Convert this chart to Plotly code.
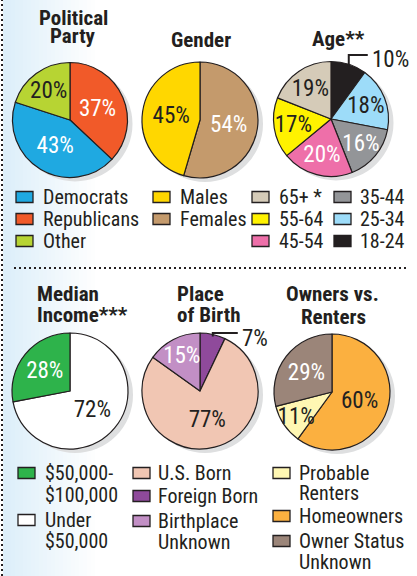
import math
import plotly.graph_objects as go

W, H = 417, 576

# ---------------- data ----------------
party_labels = ["Republicans", "Democrats", "Other"]
party_values = [37, 43, 20]
gender_labels = ["Females", "Males"]
gender_values = [54, 45]
age_labels = ["18-24", "25-34", "35-44", "45-54", "55-64", "65+ *"]
age_values = [10, 18, 16, 20, 17, 19]
income_labels = ["Under $50,000", "$50,000-$100,000"]
income_values = [72, 28]
birth_labels = ["Foreign Born", "U.S. Born", "Birthplace Unknown"]
birth_values = [7, 77, 15]
owner_labels = ["Homeowners", "Probable Renters", "Owner Status Unknown"]
owner_values = [60, 11, 29]

# legend text (as printed, split over lines)
party_legend = [["Democrats"], ["Republicans"], ["Other"]]
gender_legend = [["Males"], ["Females"]]
age_legend_1 = [["65+ *"], ["55-64"], ["45-54"]]
age_legend_2 = [["35-44"], ["25-34"], ["18-24"]]
income_legend = [["$50,000-", "$100,000"], ["Under", "$50,000"]]
birth_legend = [["U.S. Born"], ["Foreign Born"], ["Birthplace", "Unknown"]]
owner_legend = [["Probable", "Renters"], ["Homeowners"], ["Owner Status", "Unknown"]]

# ---------------- style ----------------
DARK = "#231F20"
FONT = "Liberation Sans Narrow, Arial Narrow, Roboto Condensed, DejaVu Sans Condensed, sans-serif"

colors = {
    "Republicans": "#F15A29", "Democrats": "#1FA9E1", "Other": "#B7D433",
    "Females": "#C49A6C", "Males": "#FFD700",
    "18-24": "#231F20", "25-34": "#9DDCF9", "35-44": "#939598",
    "45-54": "#EE6FA9", "55-64": "#FFF200", "65+ *": "#D5CBB8",
    "Under $50,000": "#FFFFFF", "$50,000-$100,000": "#2EB34B",
    "Foreign Born": "#8F4A9B", "U.S. Born": "#F1C6B3", "Birthplace Unknown": "#C28FC5",
    "Homeowners": "#FBB040", "Probable Renters": "#FFF7B3", "Owner Status Unknown": "#9B8579",
}
white_text = {"Republicans", "Democrats", "Females", "35-44", "45-54",
              "$50,000-$100,000", "Birthplace Unknown", "Owner Status Unknown"}


def px(x):
    return x / W


def py(y):
    return 1 - y / H


fig = go.Figure()
shapes = []
annotations = []

# background gradient on the left
for i in range(24):
    t = i / 23
    c = tuple(int(a + (255 - a) * t) for a in (221, 239, 250))
    shapes.append(dict(type="rect", xref="paper", yref="paper", layer="below",
                       x0=px(3 + i * 4), x1=px(3 + (i + 1) * 4 + 0.5), y0=0, y1=1,
                       fillcolor="rgb(%d,%d,%d)" % c, line=dict(width=0)))

# dotted separators
shapes.append(dict(type="line", xref="paper", yref="paper", x0=px(2), x1=px(2), y0=0, y1=1,
                   line=dict(color=DARK, width=2, dash="2px,3px")))
shapes.append(dict(type="line", xref="paper", yref="paper", x0=px(14), x1=px(409),
                   y0=py(268), y1=py(268), line=dict(color=DARK, width=2, dash="2px,3px")))

pies = [
    # labels, values, cx, cy, r, callout
    (party_labels, party_values, 70, 120, 57.5, None),
    (gender_labels, gender_values, 200, 120, 58, None),
    (age_labels, age_values, 331, 119, 57.5, dict(level=55, length=19)),
    (income_labels, income_values, 70, 391, 58, None),
    (birth_labels, birth_values, 200, 391, 58, dict(level=333, length=25)),
    (owner_labels, owner_values, 332, 392, 58, None),
]

for labels, values, cx, cy, r, callout in pies:
    # drop shadow
    shapes.append(dict(type="circle", xref="paper", yref="paper", layer="below",
                       x0=px(cx - r + 5), x1=px(cx + r + 5), y0=py(cy + r + 4), y1=py(cy - r + 4),
                       fillcolor="#DEDFE0", line=dict(width=0)))
    text = ["%d%%" % v for v in values]
    if callout:
        text[0] = ""
    fig.add_trace(go.Pie(
        labels=labels, values=values, sort=False, direction="clockwise", rotation=0,
        marker=dict(colors=[colors[l] for l in labels], line=dict(color=DARK, width=1.2)),
        text=text, textinfo="text", textposition="inside",
        insidetextorientation="horizontal",
        textfont=dict(family=FONT, size=23,
                      color=["#FFFFFF" if l in white_text else DARK for l in labels]),
        domain=dict(x=[px(cx - r), px(cx + r)], y=[py(cy + r), py(cy - r)]),
        hoverinfo="skip", showlegend=False,
    ))
    if callout:
        ang = math.radians(360 * values[0] / 2 / sum(values))
        ax = cx + r * math.sin(ang)
        ay = cy - r * math.cos(ang) + 2
        lvl = callout["level"]
        ex = ax + callout["length"]
        shapes.append(dict(type="path", xref="paper", yref="paper",
                           path="M %f,%f L %f,%f L %f,%f" % (px(ax), py(ay), px(ax), py(lvl), px(ex), py(lvl)),
                           line=dict(color=DARK, width=2)))
        annotations.append(dict(xref="paper", yref="paper", x=px(ex + 2), y=py(lvl + 5),
                                xanchor="left", yanchor="middle", showarrow=False,
                                text="%d%%" % values[0],
                                font=dict(family=FONT, size=23, color=DARK)))

# titles
titles = [
    ("Political", 73, 18, "center"), ("Party", 73, 36, "center"),
    ("Gender", 201, 40, "center"),
    ("Age**", 338, 39, "center"),
    ("Median", 35, 294, "left"), ("Income***", 35, 315, "left"),
    ("Place", 175, 294, "left"), ("of Birth", 175, 315, "left"),
    ("Owners vs.", 332, 294, "center"), ("Renters", 333, 317, "center"),
]
for t, x, y, anc in titles:
    annotations.append(dict(xref="paper", yref="paper", x=px(x), y=py(y), xanchor=anc,
                            yanchor="middle", showarrow=False, text="<b>%s</b>" % t,
                            font=dict(family=FONT, size=21, color=DARK)))


def add_legend(entries, entry_colors, sq_x, text_x, line_ys):
    k = 0
    for lines, col in zip(entries, entry_colors):
        y0 = line_ys[k]
        shapes.append(dict(type="rect", xref="paper", yref="paper",
                           x0=px(sq_x), x1=px(sq_x + 17), y0=py(y0 + 5.5), y1=py(y0 - 5.5),
                           fillcolor=col, line=dict(color=DARK, width=1.3)))
        for ln in lines:
            annotations.append(dict(xref="paper", yref="paper", x=px(text_x), y=py(line_ys[k]),
                                    xanchor="left", yanchor="middle", showarrow=False, text=ln,
                                    font=dict(family=FONT, size=20, color=DARK)))
            k += 1


add_legend(party_legend, [colors[l] for l in ["Democrats", "Republicans", "Other"]], 16, 41, [197, 219, 241])
add_legend(gender_legend, [colors[l] for l in ["Males", "Females"]], 153, 178, [197, 219])
add_legend(age_legend_1, [colors[l] for l in ["65+ *", "55-64", "45-54"]], 252, 277, [197, 219, 241])
add_legend(age_legend_2, [colors[l] for l in ["35-44", "25-34", "18-24"]], 334, 358, [197, 219, 241])
add_legend(income_legend, [colors[l] for l in ["$50,000-$100,000", "Under $50,000"]], 18, 43, [473, 495, 520, 541])
add_legend(birth_legend, [colors[l] for l in ["U.S. Born", "Foreign Born", "Birthplace Unknown"]], 133, 156, [473, 496, 521, 542])
add_legend(owner_legend, [colors[l] for l in ["Probable Renters", "Homeowners", "Owner Status Unknown"]], 273, 297, [473, 493, 516, 541, 562])

fig.update_layout(
    width=W, height=H, margin=dict(l=0, r=0, t=0, b=0),
    paper_bgcolor="white", plot_bgcolor="white",
    shapes=shapes, annotations=annotations, showlegend=False,
    font=dict(family=FONT, color=DARK),
    uniformtext=dict(minsize=23, mode="show"),
)

fig.write_html("out.html", config={"displayModeBar": False},
               post_script="document.body.style.margin='0';")
